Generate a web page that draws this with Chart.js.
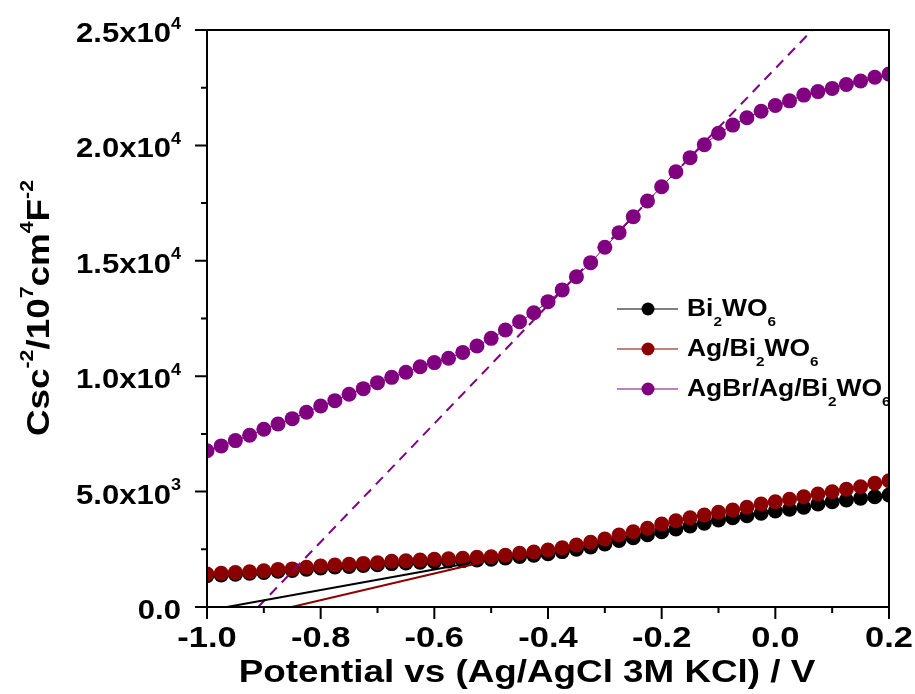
<!DOCTYPE html>
<html lang="en">
<head>
<meta charset="UTF-8" />
<title>Mott-Schottky plot</title>
<script src="https://cdn.jsdelivr.net/npm/chart.js@4"></script>
<style>
  html, body { margin: 0; padding: 0; background: #fff; }
  #wrap { width: 915px; height: 694px; }
</style>
</head>
<body>
<div id="wrap"><canvas id="chart" width="915" height="694"></canvas></div>
<script>
// applied potential, V vs Ag/AgCl
const potential = [
  -1.0, -0.975, -0.95, -0.925, -0.9, -0.875, -0.85, -0.825, -0.8, -0.775,
  -0.75, -0.725, -0.7, -0.675, -0.65, -0.625, -0.6, -0.575, -0.55, -0.525,
  -0.5, -0.475, -0.45, -0.425, -0.4, -0.375, -0.35, -0.325, -0.3, -0.275,
  -0.25, -0.225, -0.2, -0.175, -0.15, -0.125, -0.1, -0.075, -0.05, -0.025,
  0.0, 0.025, 0.05, 0.075, 0.1, 0.125, 0.15, 0.175, 0.2
]

// Csc^-2 for each sample
const bi2wo6 = [
  1360, 1390, 1420, 1460, 1500, 1550, 1580, 1640, 1690, 1730,
  1760, 1800, 1830, 1880, 1910, 1940, 1960, 1990, 2010, 2040,
  2070, 2120, 2190, 2240, 2310, 2400, 2500, 2600, 2730, 2880,
  3000, 3130, 3263, 3380, 3510, 3626, 3770, 3869, 3956, 4060,
  4160, 4233, 4320, 4463, 4563, 4636, 4709, 4779, 4853
]
const agBi2wo6 = [
  1430, 1460, 1490, 1530, 1570, 1630, 1650, 1720, 1775, 1820,
  1850, 1890, 1920, 1980, 2005, 2035, 2066, 2093, 2110, 2153,
  2180, 2240, 2327, 2383, 2470, 2570, 2686, 2803, 2946, 3120,
  3263, 3410, 3596, 3739, 3869, 3986, 4103, 4203, 4320, 4463,
  4563, 4666, 4779, 4896, 4996, 5100, 5212, 5360, 5472
]
const agbrAgBi2wo6 = [
  6770, 6980, 7210, 7440, 7700, 7930, 8160, 8440, 8710, 8940,
  9220, 9460, 9720, 9950, 10170, 10410, 10590, 10780, 11030, 11310,
  11640, 12000, 12360, 12750, 13230, 13740, 14310, 14920, 15590, 16220,
  16910, 17590, 18210, 18860, 19470, 20030, 20525, 20880, 21200, 21480,
  21730, 21930, 22180, 22330, 22470, 22640, 22790, 22950, 23090
]

// linear fits extrapolated to the flat-band potential
const fitBlackX = [-0.965, -0.537]
const fitBlackY = [0, 1906]
const fitRedX = [-0.851, -0.512]
const fitRedY = [0, 1960]
const fitPurpleX = [-0.91, 0.065]
const fitPurpleY = [0, 25000]

const seriesNames = ['Bi2WO6', 'Ag/Bi2WO6', 'AgBr/Ag/Bi2WO6']
const seriesColors = ['#000000', '#8b0000', '#800080']

const xTicks = [-1.0, -0.8, -0.6, -0.4, -0.2, 0.0, 0.2]
const xMinorTicks = [-0.9, -0.7, -0.5, -0.3, -0.1, 0.1]
const yTicks = [0, 5000, 10000, 15000, 20000, 25000]
const yMinorTicks = [2500, 7500, 12500, 17500, 22500]

const FONT = '"Liberation Sans", Arial, sans-serif'
const STRETCH = 1.15  // the lettering runs a bit wide

function pairs(xs, ys) {
  return xs.map((x, i) => ({ x: x, y: ys[i] }))
}

function setFont(ctx, size) {
  ctx.font = `bold ${size}px ${FONT}`
}

// parts: [text, shift] where shift 1 = superscript, -1 = subscript
function richWidth(ctx, parts, size) {
  let w = 0
  for (const [t, s] of parts) {
    setFont(ctx, s ? size * 0.58 : size)
    w += ctx.measureText(t).width
  }
  return w * STRETCH
}

function drawRich(ctx, parts, x, y, size, align) {
  const w = richWidth(ctx, parts, size)
  const left = align === 'right' ? x - w : align === 'center' ? x - w / 2 : x
  ctx.save()
  ctx.translate(left, y)
  ctx.scale(STRETCH, 1)
  ctx.textAlign = 'left'
  ctx.textBaseline = 'alphabetic'
  let cx = 0
  for (const [t, s] of parts) {
    setFont(ctx, s ? size * 0.58 : size)
    const dy = s === 1 ? -size * 0.5 : s === -1 ? size * 0.45 : 0
    ctx.fillText(t, cx, dy)
    cx += ctx.measureText(t).width
  }
  ctx.restore()
}

function yTickParts(v) {
  if (v === 0) return [['0.0', 0]]
  const e = Math.floor(Math.log10(v))
  const m = (v / Math.pow(10, e)).toFixed(1)
  return [[m + 'x10', 0], [String(e), 1]]
}

function chemParts(name) {
  return name.split(/(\d+)/).filter(t => t).map(t => [t, /^\d+$/.test(t) ? -1 : 0])
}

const frame = {
  id: 'frame',
  afterDraw(chart) {
    const { ctx, chartArea: a } = chart
    const x = chart.scales.x
    const y = chart.scales.y
    ctx.save()
    ctx.strokeStyle = '#000'
    ctx.fillStyle = '#000'
    ctx.lineWidth = 2
    ctx.strokeRect(a.left, a.top, a.right - a.left, a.bottom - a.top)

    ctx.beginPath()
    xTicks.forEach(v => {
      const px = x.getPixelForValue(v)
      ctx.moveTo(px, a.bottom)
      ctx.lineTo(px, a.bottom + 12)
    })
    xMinorTicks.forEach(v => {
      const px = x.getPixelForValue(v)
      ctx.moveTo(px, a.bottom)
      ctx.lineTo(px, a.bottom + 6)
    })
    yTicks.forEach(v => {
      const py = y.getPixelForValue(v)
      ctx.moveTo(a.left, py)
      ctx.lineTo(a.left - 12, py)
    })
    yMinorTicks.forEach(v => {
      const py = y.getPixelForValue(v)
      ctx.moveTo(a.left, py)
      ctx.lineTo(a.left - 6, py)
    })
    ctx.stroke()

    xTicks.forEach(v => {
      drawRich(ctx, [[v.toFixed(1), 0]], x.getPixelForValue(v), a.bottom + 40, 30, 'center')
    })
    yTicks.forEach(v => {
      drawRich(ctx, yTickParts(v), a.left - 26, y.getPixelForValue(v) + 12, 27, 'right')
    })

    // axis titles
    drawRich(ctx, [['Potential vs (Ag/AgCl 3M KCl) / V', 0]], 527, 682, 32, 'center')
    ctx.save()
    ctx.translate(49, 308)
    ctx.rotate(-Math.PI / 2)
    drawRich(ctx, [['Csc', 0], ['-2', 1], ['/10', 0], ['7', 1], ['cm', 0], ['4', 1], ['F', 0], ['-2', 1]], 0, 0, 32, 'center')
    ctx.restore()

    // legend
    seriesNames.forEach((name, i) => {
      const cy = 309 + i * 40
      ctx.strokeStyle = seriesColors[i]
      ctx.lineWidth = 1
      ctx.beginPath()
      ctx.moveTo(617, cy)
      ctx.lineTo(678, cy)
      ctx.stroke()
      ctx.fillStyle = seriesColors[i]
      ctx.beginPath()
      ctx.arc(648, cy, 6.5, 0, Math.PI * 2)
      ctx.fill()
      ctx.fillStyle = '#000'
      drawRich(ctx, chemParts(name), 687, cy + 7, 23, 'left')
    })
    ctx.restore()
  }
}

function series(name, ys, color, order) {
  return {
    label: name,
    data: pairs(potential, ys),
    showLine: true,
    borderColor: color,
    backgroundColor: color,
    borderWidth: 1,
    pointRadius: 7.5,
    pointBorderWidth: 0,
    pointBorderColor: color,
    order: order,
    clip: 0,
  }
}

function fit(xs, ys, color, dash) {
  return {
    data: pairs(xs, ys),
    showLine: true,
    borderColor: color,
    borderWidth: 2,
    borderDash: dash,
    pointRadius: 0,
    order: 0,
    clip: 0,
  }
}

new Chart(document.getElementById('chart'), {
  type: 'scatter',
  data: {
    datasets: [
      series(seriesNames[0], bi2wo6, seriesColors[0], 3),
      series(seriesNames[1], agBi2wo6, seriesColors[1], 2),
      series(seriesNames[2], agbrAgBi2wo6, seriesColors[2], 1),
      fit(fitBlackX, fitBlackY, '#000000', []),
      fit(fitRedX, fitRedY, '#8b0000', []),
      fit(fitPurpleX, fitPurpleY, '#800080', [10, 7]),
    ],
  },
  options: {
    responsive: false,
    animation: false,
    devicePixelRatio: 1,
    layout: { padding: { left: 207, right: 26, top: 30, bottom: 87 } },
    scales: {
      x: { type: 'linear', min: -1.0, max: 0.2, display: false },
      y: { type: 'linear', min: 0, max: 25000, display: false },
    },
    plugins: {
      legend: { display: false },
      tooltip: { enabled: false },
    },
  },
  plugins: [frame],
})
</script>
</body>
</html>
